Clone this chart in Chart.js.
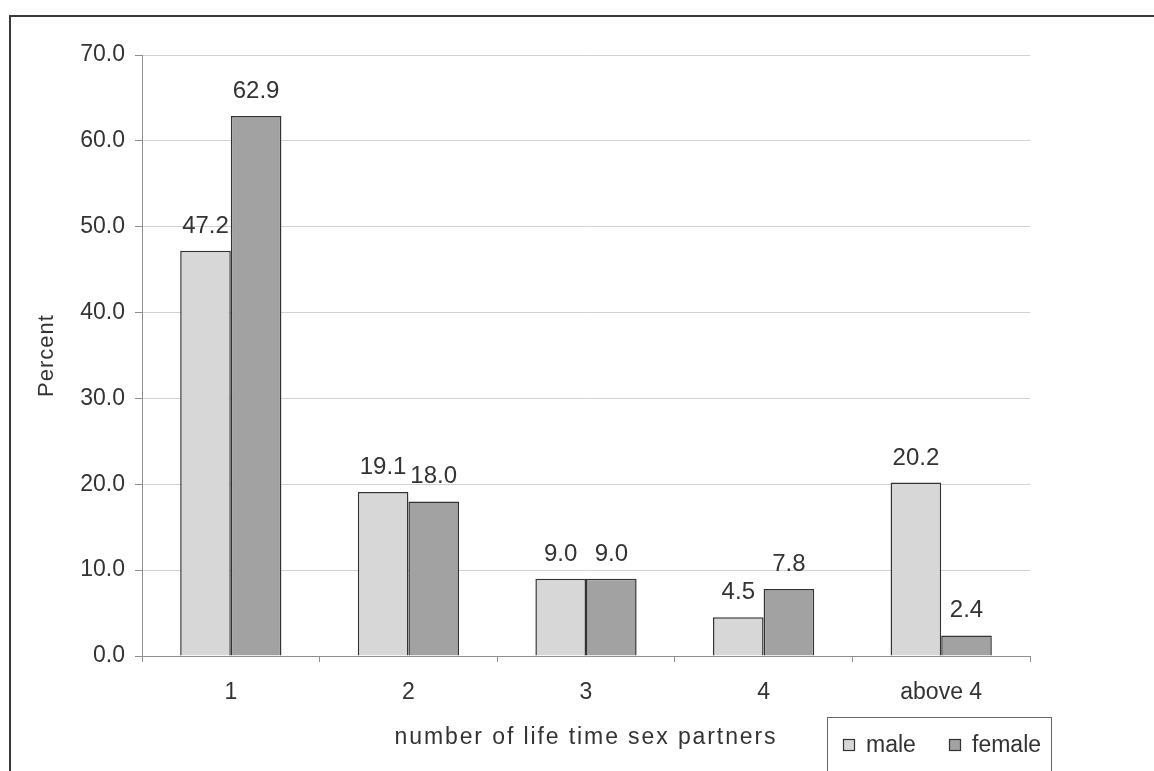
<!DOCTYPE html>
<html>
<head>
<meta charset="utf-8">
<script src="https://cdn.jsdelivr.net/npm/chart.js@4/dist/chart.umd.min.js"></script>
<style>
  html, body { margin: 0; padding: 0; background: #fff; overflow: hidden; }
  #wrap { position: relative; width: 1154px; height: 771px; }
  #frame { position: absolute; left: 9px; top: 15px; width: 1200px; height: 800px;
           border: 2px solid #3a3a3a; box-sizing: border-box; pointer-events: none; }
  canvas { position: absolute; left: 0; top: 0; }
</style>
</head>
<body>
<div id="wrap">
  <canvas id="chart" width="1154" height="771"></canvas>
  <div id="frame"></div>
</div>
<script>
// Share of respondents by number of lifetime sex partners
const categories = ['1', '2', '3', '4', 'above 4'];
const maleValues = [47.2, 19.1, 9.0, 4.5, 20.2];
const femaleValues = [62.9, 18.0, 9.0, 7.8, 2.4];
const seriesNames = ['male', 'female'];
const yAxisTitle = 'Percent';
const xAxisTitle = 'number of life time sex partners';

const FONT = "'Liberation Sans', Arial, sans-serif";
const TEXT = '#333333';
const AXIS = '#8f8f8f';

// Scales whose titles are drawn with extra letter spacing
function withSpacedTitle(Base, id, spacing) {
  return class extends Base {
    static id = id;
    static defaults = Base.defaults;
    drawTitle() {
      const ctx = this.ctx;
      ctx.save();
      ctx.letterSpacing = spacing;
      super.drawTitle();
      ctx.restore();
    }
  };
}
const SpacedCategory = withSpacedTitle(Chart.CategoryScale, 'spacedCategory', '1.9px');
const SpacedLinear = withSpacedTitle(Chart.LinearScale, 'spacedLinear', '1px');
Chart.register(SpacedCategory, SpacedLinear);

// Value labels above every bar
const valueLabels = {
  id: 'valueLabels',
  afterDatasetsDraw(chart) {
    const ctx = chart.ctx;
    ctx.save();
    ctx.font = '24px ' + FONT;
    ctx.fillStyle = TEXT;
    ctx.textAlign = 'center';
    ctx.textBaseline = 'alphabetic';
    chart.data.datasets.forEach((ds, i) => {
      chart.getDatasetMeta(i).data.forEach((bar, j) => {
        ctx.fillText(ds.data[j].toFixed(1), bar.x, bar.y - 18);
      });
    });
    ctx.restore();
  }
};

// Boxed legend in the lower right corner
const boxLegend = {
  id: 'boxLegend',
  afterDraw(chart) {
    const ctx = chart.ctx;
    ctx.save();
    ctx.strokeStyle = '#666';
    ctx.lineWidth = 1;
    ctx.strokeRect(827.5, 717.5, 224, 70);
    ctx.font = '23px ' + FONT;
    ctx.textBaseline = 'middle';
    ctx.textAlign = 'left';
    const items = [{ x: 843 }, { x: 949 }];
    chart.data.datasets.forEach((ds, i) => {
      const x = items[i].x;
      ctx.fillStyle = ds.backgroundColor;
      ctx.fillRect(x, 739, 12, 12);
      ctx.strokeStyle = '#333';
      ctx.lineWidth = 1.2;
      ctx.strokeRect(x + 0.5, 739.5, 11, 11);
      ctx.fillStyle = TEXT;
      ctx.fillText(ds.label, x + 23, 746);
    });
    ctx.restore();
  }
};

new Chart(document.getElementById('chart'), {
  type: 'bar',
  data: {
    labels: categories,
    datasets: [
      { label: seriesNames[0], data: maleValues, backgroundColor: '#d7d7d7',
        borderColor: '#333', borderWidth: 1.5 },
      { label: seriesNames[1], data: femaleValues, backgroundColor: '#a2a2a2',
        borderColor: '#333', borderWidth: 1.5 }
    ]
  },
  options: {
    responsive: false,
    animation: false,
    devicePixelRatio: 1,
    datasets: { bar: { categoryPercentage: 0.57, barPercentage: 1.0 } },
    layout: { padding: { left: 10, top: 55, right: 124, bottom: 0 } },
    plugins: { legend: { display: false }, tooltip: { enabled: false } },
    scales: {
      x: {
        type: 'spacedCategory',
        offset: true,
        afterFit(scale) { scale.height = 115; },
        grid: { display: true, drawOnChartArea: false, drawTicks: true, tickLength: 6,
                offset: true, tickColor: AXIS, color: AXIS },
        border: { display: true, color: AXIS, width: 1 },
        ticks: { color: TEXT, font: { family: FONT, size: 23 }, padding: 17, maxRotation: 0 },
        title: { display: true, text: xAxisTitle, color: TEXT,
                 font: { family: FONT, size: 23 }, padding: { top: 0, bottom: 20 } }
      },
      y: {
        type: 'spacedLinear',
        min: 0, max: 70,
        afterFit(scale) { scale.width = 132; },
        grid: { color: '#d2d2d2', lineWidth: 1, tickLength: 7, tickColor: AXIS },
        border: { display: true, color: AXIS, width: 1 },
        ticks: { stepSize: 10, color: TEXT, font: { family: FONT, size: 23 }, padding: 10,
                 callback: (v) => Number(v).toFixed(1) },
        title: { display: true, text: yAxisTitle, color: TEXT,
                 font: { family: FONT, size: 22 }, padding: { top: 24, bottom: 0 } }
      }
    }
  },
  plugins: [valueLabels, boxLegend]
});
</script>
</body>
</html>
